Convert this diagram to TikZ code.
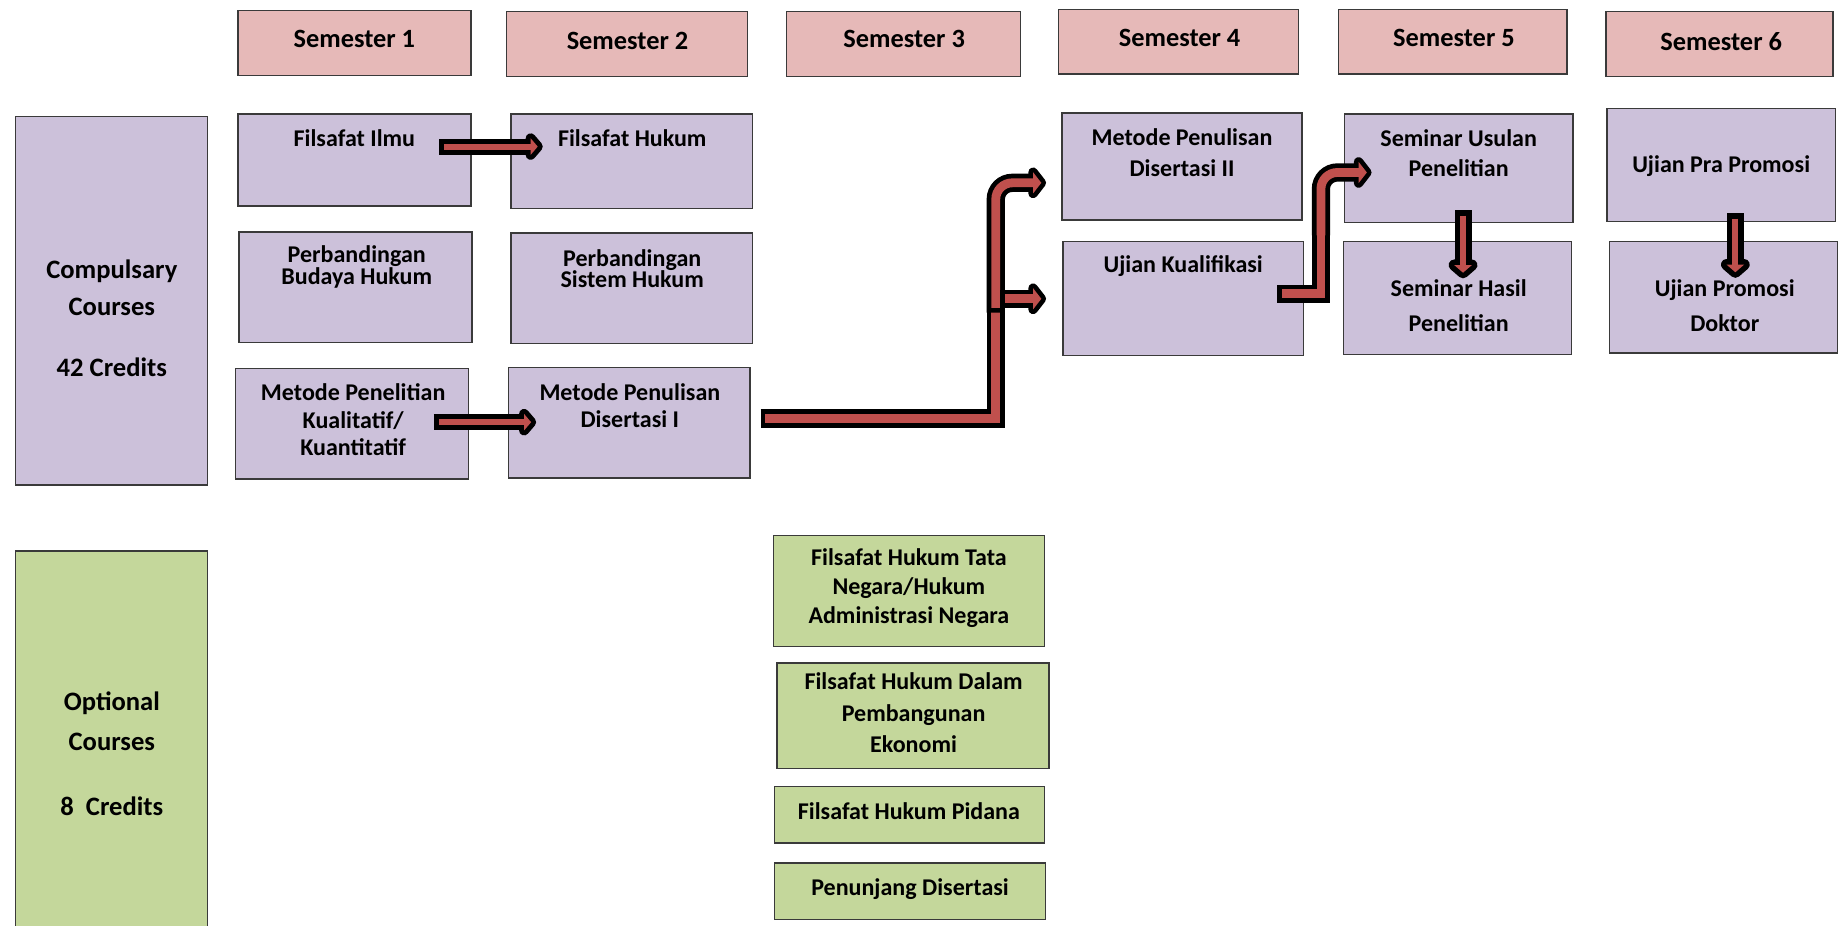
\documentclass[tikz,border=0pt]{standalone}
\usepackage{fontspec}
\setmainfont{Carlito}
\usetikzlibrary{calc}
\definecolor{hdr}{HTML}{E6B9B8}
\definecolor{pur}{HTML}{CCC1DA}
\definecolor{grn}{HTML}{C4D79B}
\definecolor{ared}{HTML}{C0504D}
\definecolor{bline}{HTML}{3A3A3A}
\tikzset{
  bx/.style 2 args={draw=bline, line width=0.6pt, minimum width=#1*0.5pt, minimum height=#2*0.5pt, inner sep=0pt, anchor=center},
  ht/.style={align=center, inner sep=0pt, font=\bfseries\fontsize{11.2}{13}\selectfont},
  bt/.style={align=center, inner sep=0pt, font=\bfseries\fontsize{10.2}{#1}\selectfont},
  bt/.default=12,
  lt/.style={align=center, inner sep=0pt, font=\bfseries\fontsize{11.3}{#1}\selectfont},
  lt/.default=15.5,
  pics/ahead/.style n args={3}{code={
    \draw[black, line width=#3, line join=round, fill=black] (0,0) -- (-#1,-#2) -- (-#1,#2) -- cycle;
    \fill[ared] (0,0) -- (-#1,-#2) -- (-#1,#2) -- cycle;
  }}
}
% #1 start, #2 tip, #3 rotation, #4 head length, #5 head half height,
% #6 inner width, #7 outer width, #8 border
\newcommand\sarrow[8]{%
  \draw[black, line width=#7, line join=round, shorten <=-#8, shorten >=#4*0.5pt] (#1) -- (#2);
  \pic[rotate=#3] at (#2) {ahead={#4}{#5}{2*#8}};
  \draw[ared, line width=#6, shorten >=#4*0.5pt-0.5pt] (#1) -- (#2);
}
\begin{document}
\begin{tikzpicture}[x=0.5pt, y=-0.5pt]
\useasboundingbox (0,0) rectangle (1568,786);
\clip (0,0) rectangle (1568,786);

% semester headers
\node[bx={198}{55}, fill=hdr] (s1) at (301,36.5) {};
\node[bx={205}{55}, fill=hdr] (s2) at (532.5,37.5) {};
\node[bx={199}{55}, fill=hdr] (s3) at (767.5,37.5) {};
\node[bx={204}{55}, fill=hdr] (s4) at (1001,35.5) {};
\node[bx={194}{55}, fill=hdr] (s5) at (1234,35.5) {};
\node[bx={193}{55}, fill=hdr] (s6) at (1460.5,37.5) {};
\node[ht] (s1t) at (301,33) {Semester 1};
\node[ht] (s2t) at (533,35) {Semester 2};
\node[ht] (s3t) at (768,33) {Semester 3};
\node[ht] (s4t) at (1002,32) {Semester 4};
\node[ht] (s5t) at (1235,32) {Semester 5};
\node[ht] (s6t) at (1462,35) {Semester 6};

% left category boxes
\node[bx={163}{313}, fill=pur] (comp) at (94.5,255.5) {};
\node[bx={163}{332}, fill=grn] (opt) at (94.5,634) {};
\node[lt] (compt) at (95,270.5) {Compulsary\\Courses\\[10.5pt]42 Credits};
\node[lt=17] (optt) at (95,640.5) {Optional\\Courses\\[10.5pt]8\ \ Credits};

% compulsory course boxes
\node[bx={198}{78}, fill=pur] (fi) at (301,136) {};
\node[bx={205}{80}, fill=pur] (fh) at (536.5,137) {};
\node[bx={198}{94}, fill=pur] (pb) at (302,244) {};
\node[bx={205}{94}, fill=pur] (ps) at (536.5,245) {};
\node[bx={198}{94}, fill=pur] (mp) at (299,360) {};
\node[bx={205}{94}, fill=pur] (md1) at (534.5,359) {};
\node[bx={204}{91}, fill=pur] (md2) at (1004,141.5) {};
\node[bx={204}{97}, fill=pur] (uk) at (1005,253.5) {};
\node[bx={194}{92}, fill=pur] (su) at (1239,143) {};
\node[bx={194}{96}, fill=pur] (sh) at (1238,253) {};
\node[bx={194}{96}, fill=pur] (upp) at (1462,140) {};
\node[bx={194}{95}, fill=pur] (upd) at (1464,252.5) {};

\node[bt] (fit) at (301,117) {Filsafat Ilmu};
\node[bt] (fht) at (537,117) {Filsafat Hukum};
\node[bt=9.5] (pbt) at (303,226.5) {Perbandingan\\Budaya Hukum};
\node[bt=9] (pst) at (537,228) {Perbandingan\\Sistem Hukum};
\node[bt=11.75] (mpt) at (300,356.5) {Metode Penelitian\\Kualitatif/\\Kuantitatif};
\node[bt=11.5] (md1t) at (535,344.5) {Metode Penulisan\\Disertasi I};
\node[bt=13] (md2t) at (1004,129.5) {Metode Penulisan\\Disertasi II};
\node[bt] (ukt) at (1005,226) {Ujian Kualifikasi};
\node[bt=13] (sut) at (1239,130) {Seminar Usulan\\Penelitian};
\node[bt=15] (sht) at (1239,259.5) {Seminar Hasil\\Penelitian};
\node[bt] (uppt) at (1462,141) {Ujian Pra Promosi};
\node[bt=15] (updt) at (1465,259.5) {Ujian Promosi\\Doktor};

% optional course boxes
\node[bx={230}{94}, fill=grn] (o1) at (772,502) {};
\node[bx={231}{90}, fill=grn] (o2) at (775.5,608) {};
\node[bx={229}{48}, fill=grn] (o3) at (772.5,692) {};
\node[bx={230}{48}, fill=grn] (o4) at (773,757) {};
\node[bt=12.5] (o1t) at (772,499.5) {Filsafat Hukum Tata\\Negara/Hukum\\Administrasi Negara};
\node[bt=13.5] (o2t) at (776,605.5) {Filsafat Hukum Dalam\\Pembangunan\\Ekonomi};
\node[bt] (o3t) at (772,689) {Filsafat Hukum Pidana};
\node[bt] (o4t) at (773,755) {Penunjang Disertasi};

% arrow end points
\coordinate (a1s) at (377.25,124.5);
\coordinate (a1t) at (456.75,124.5);
\coordinate (a2s) at (372.85,358.6);
\coordinate (a2t) at (451.15,358.6);
\coordinate (d1s) at (1242.7,183.15);
\coordinate (d1t) at (1242.7,231.65);
\coordinate (d2s) at (1474,185.75);
\coordinate (d2t) at (1474,231.25);
\coordinate (b0) at (650,355.5);
\coordinate (bc) at (845.8,355.5);
\coordinate (b1) at (845.8,261.5);
\coordinate (b2) at (845.8,155.3);
\coordinate (b3) at (884.5,155.3);
\coordinate (c0) at (853.6,253.8);
\coordinate (c1) at (884.5,253.8);
\coordinate (e0) at (1089,249.5);
\coordinate (ec) at (1122,249.5);
\coordinate (em) at (1122,200);
\coordinate (et) at (1122,146.5);
\coordinate (e1) at (1161,146.5);

% straight arrows
\sarrow{a1s}{a1t}{0}{6}{7}{2.5pt}{6.75pt}{2.125pt}
\sarrow{a2s}{a2t}{0}{6}{7}{2.5pt}{6.75pt}{2.125pt}
\sarrow{d1s}{d1t}{-90}{6.5}{7.5}{2.5pt}{7.25pt}{2.375pt}
\sarrow{d2s}{d2t}{-90}{6.5}{7.5}{2.5pt}{7.25pt}{2.375pt}

% bent arrow from Metode Penulisan Disertasi I
\draw[black, line width=7.75pt, shorten <=-2pt] (b0) -- (bc) -- (b1);
\draw[ared, line width=3.75pt] (b0) -- (bc) -- (b1);
\draw[black, line width=7.75pt, shorten <=-2pt, shorten >=3.5pt, rounded corners=7pt] (b1) -- (b2) -- (b3);
\pic at (b3) {ahead={7}{9}{4pt}};
\draw[ared, line width=3.75pt, shorten >=3pt, rounded corners=7pt] (b1) -- (b2) -- (b3);
\sarrow{c0}{c1}{0}{7}{9}{3.75pt}{7.75pt}{2pt}

% bent arrow from Ujian Kualifikasi
\draw[black, line width=7.75pt, shorten <=-2pt] (e0) -- (ec) -- (em);
\draw[black, line width=7.75pt, shorten >=3.5pt, rounded corners=7pt] (em) -- (et) -- (e1);
\pic at (e1) {ahead={7}{9}{4pt}};
\draw[ared, line width=3.75pt] (e0) -- (ec) -- (em);
\draw[ared, line width=3.75pt, shorten >=3pt, rounded corners=7pt] (em) -- (et) -- (e1);
\end{tikzpicture}
\end{document}
